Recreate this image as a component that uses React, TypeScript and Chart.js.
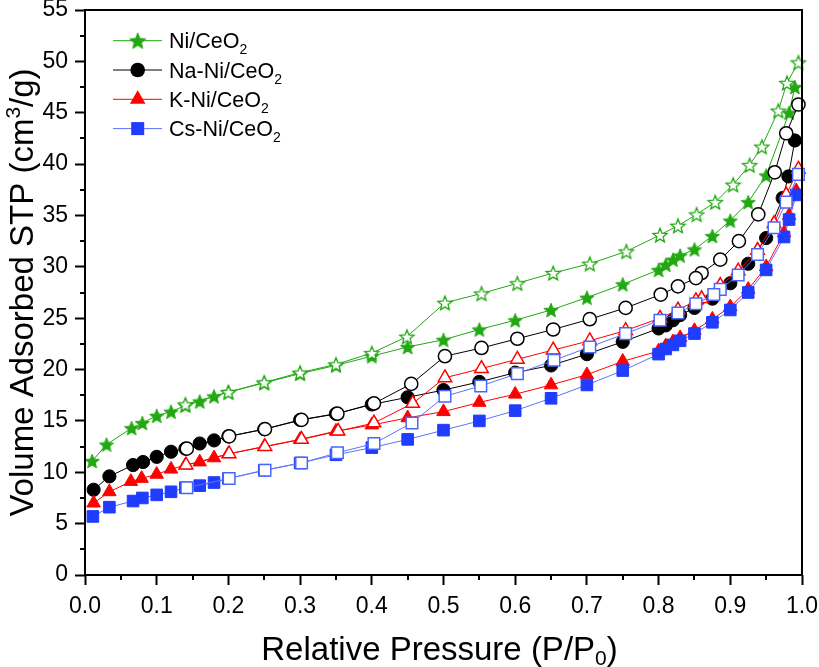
import React, { useEffect, useRef } from 'react';
import { Chart, registerables } from 'chart.js';

Chart.register(...registerables);

// ---------- data (relative pressure P/P0, volume cm3/g) ----------
const niAdsP = [0.01, 0.03, 0.065, 0.08, 0.1, 0.12, 0.14, 0.16, 0.18, 0.2, 0.25, 0.3, 0.35, 0.4, 0.45, 0.5, 0.55, 0.6, 0.65, 0.7, 0.75, 0.8, 0.81, 0.82, 0.83, 0.85, 0.875, 0.9, 0.925, 0.95, 0.982, 0.99];
const niAdsV = [11.1, 12.7, 14.3, 14.8, 15.5, 15.9, 16.5, 16.9, 17.4, 17.8, 18.7, 19.6, 20.4, 21.3, 22.2, 22.9, 23.9, 24.8, 25.8, 27.0, 28.3, 29.7, 30.2, 30.7, 31.1, 31.7, 33.0, 34.5, 36.3, 38.9, 45.0, 47.5];
const niDesP = [0.995, 0.979, 0.967, 0.944, 0.927, 0.904, 0.879, 0.853, 0.827, 0.802, 0.755, 0.704, 0.653, 0.603, 0.553, 0.502, 0.449, 0.4, 0.35, 0.3, 0.25, 0.2, 0.14];
const niDesV = [49.9, 47.9, 45.2, 41.7, 39.9, 38.0, 36.3, 35.1, 34.0, 33.1, 31.5, 30.3, 29.4, 28.4, 27.4, 26.5, 23.2, 21.6, 20.5, 19.7, 18.75, 17.8, 16.6];

const naAdsP = [0.012, 0.034, 0.067, 0.081, 0.1, 0.12, 0.14, 0.16, 0.18, 0.2, 0.25, 0.3, 0.35, 0.4, 0.45, 0.5, 0.55, 0.6, 0.65, 0.7, 0.75, 0.8, 0.81, 0.82, 0.83, 0.85, 0.875, 0.9, 0.925, 0.95, 0.973, 0.981, 0.99];
const naAdsV = [8.3, 9.6, 10.7, 11.0, 11.5, 12.0, 12.3, 12.8, 13.1, 13.5, 14.2, 15.1, 15.7, 16.6, 17.3, 18.0, 18.8, 19.7, 20.4, 21.5, 22.7, 24.0, 24.3, 24.8, 25.3, 26.0, 26.9, 28.4, 30.3, 32.8, 36.7, 38.8, 42.3];
const naDesP = [0.995, 0.978, 0.962, 0.939, 0.912, 0.886, 0.86, 0.852, 0.827, 0.803, 0.754, 0.704, 0.653, 0.603, 0.553, 0.502, 0.455, 0.403, 0.352, 0.302, 0.251, 0.201, 0.142];
const naDesV = [45.8, 43.0, 39.2, 35.1, 32.5, 30.7, 29.4, 28.9, 28.1, 27.3, 26.0, 24.9, 23.9, 23.0, 22.1, 21.3, 18.6, 16.7, 15.7, 15.1, 14.2, 13.5, 12.3];

const kAdsP = [0.012, 0.034, 0.064, 0.079, 0.1, 0.12, 0.14, 0.16, 0.18, 0.2, 0.25, 0.3, 0.35, 0.4, 0.45, 0.5, 0.55, 0.6, 0.65, 0.7, 0.75, 0.8, 0.81, 0.82, 0.83, 0.85, 0.875, 0.9, 0.925, 0.95, 0.975, 0.982, 0.992];
const kAdsV = [7.0, 8.1, 9.1, 9.4, 9.8, 10.3, 10.7, 11.0, 11.4, 11.8, 12.5, 13.2, 14.0, 14.6, 15.3, 15.9, 16.8, 17.6, 18.5, 19.5, 20.8, 21.8, 22.3, 22.7, 23.1, 23.8, 24.9, 26.1, 27.8, 30.0, 33.3, 35.0, 37.4];
const kDesP = [0.995, 0.978, 0.961, 0.938, 0.911, 0.886, 0.86, 0.852, 0.827, 0.802, 0.754, 0.704, 0.653, 0.603, 0.553, 0.502, 0.457, 0.403, 0.353, 0.302, 0.251, 0.201, 0.141];
const kDesV = [39.5, 37.0, 34.2, 31.6, 29.6, 28.2, 26.9, 26.7, 25.8, 25.0, 23.8, 22.8, 21.9, 21.0, 20.1, 19.2, 16.7, 14.8, 14.0, 13.2, 12.5, 11.8, 10.7];

const csAdsP = [0.011, 0.034, 0.067, 0.08, 0.1, 0.12, 0.14, 0.16, 0.18, 0.2, 0.25, 0.3, 0.35, 0.4, 0.45, 0.5, 0.55, 0.6, 0.65, 0.7, 0.75, 0.8, 0.81, 0.82, 0.83, 0.85, 0.875, 0.9, 0.925, 0.95, 0.975, 0.982, 0.992];
const csAdsV = [5.7, 6.6, 7.2, 7.5, 7.8, 8.1, 8.5, 8.7, 9.0, 9.4, 10.2, 10.9, 11.7, 12.4, 13.2, 14.1, 15.0, 16.0, 17.2, 18.5, 19.9, 21.5, 22.0, 22.4, 22.8, 23.5, 24.6, 25.8, 27.5, 29.7, 32.9, 34.6, 37.0];
const csDesP = [0.995, 0.978, 0.961, 0.938, 0.911, 0.886, 0.877, 0.852, 0.827, 0.802, 0.754, 0.704, 0.654, 0.603, 0.552, 0.502, 0.456, 0.403, 0.352, 0.302, 0.251, 0.201, 0.142];
const csDesV = [39.0, 36.3, 33.8, 31.2, 29.2, 27.8, 27.3, 26.4, 25.5, 24.8, 23.5, 22.2, 20.9, 19.6, 18.4, 17.4, 14.8, 12.8, 11.9, 10.9, 10.2, 9.4, 8.5];

const xTickLabels = ['0.0', '0.1', '0.2', '0.3', '0.4', '0.5', '0.6', '0.7', '0.8', '0.9', '1.0'];
const legendNames = ['Ni/CeO', 'Na-Ni/CeO', 'K-Ni/CeO', 'Cs-Ni/CeO'];

// ---------- styles ----------
const GREEN = '#22a812';
const BLACK = '#000000';
const RED = '#ff0000';
const BLUE = '#1f3cff';
const BLUE_LINE = '#5c72ff';
const BLUE_OPEN = '#4766ff';
const FONT = "'Liberation Sans', Arial, Helvetica, sans-serif";

const pts = (xs: number[], ys: number[]) => xs.map((x, i) => ({ x, y: ys[i] }));

function makeStar(fill: string, stroke: string, R: number, lw: number) {
  const size = 2 * Math.ceil(R + 2);
  const c = document.createElement('canvas');
  c.width = size;
  c.height = size;
  const g = c.getContext('2d')!;
  const cx = size / 2;
  const cy = size / 2 + 0.8;
  const r = R * 0.44;
  g.beginPath();
  for (let i = 0; i < 10; i++) {
    const a = -Math.PI / 2 + (i * Math.PI) / 5;
    const rr = i % 2 === 0 ? R : r;
    const px = cx + rr * Math.cos(a);
    const py = cy + rr * Math.sin(a);
    if (i === 0) g.moveTo(px, py);
    else g.lineTo(px, py);
  }
  g.closePath();
  g.fillStyle = fill;
  g.fill();
  g.lineWidth = lw;
  g.strokeStyle = stroke;
  g.lineJoin = 'miter';
  g.stroke();
  return c;
}

function drawSubText(ctx: CanvasRenderingContext2D, parts: { t: string; size: number; dy: number }[], x: number, y: number, align: 'left' | 'center') {
  let total = 0;
  const widths = parts.map((p) => {
    ctx.font = `${p.size}px ${FONT}`;
    const w = ctx.measureText(p.t).width;
    total += w;
    return w;
  });
  let cx = align === 'center' ? x - total / 2 : x;
  ctx.textAlign = 'left';
  ctx.textBaseline = 'alphabetic';
  parts.forEach((p, i) => {
    ctx.font = `${p.size}px ${FONT}`;
    ctx.fillText(p.t, cx, y + p.dy);
    cx += widths[i];
  });
}

export default function App() {
  const ref = useRef<HTMLCanvasElement | null>(null);

  useEffect(() => {
    if (!ref.current) return;
    const starFilled = makeStar(GREEN, GREEN, 7.5, 1);
    const starOpen = makeStar('#ffffff', GREEN, 7.5, 1.3);
    const starLegend = makeStar(GREEN, GREEN, 8.5, 1);

    const framePlugin = {
      id: 'frameAndTitles',
      afterDatasetsDraw(chart: any) {
        const { ctx, chartArea: a, scales } = chart;
        ctx.save();
        // minor ticks
        ctx.strokeStyle = '#000';
        ctx.lineWidth = 2;
        const xs = scales.x;
        const ys = scales.y;
        ctx.beginPath();
        for (let i = 0; i < 10; i++) {
          const v = 0.05 + i * 0.1;
          const px = Math.round(xs.getPixelForValue(v));
          ctx.moveTo(px, a.bottom);
          ctx.lineTo(px, a.bottom + 5);
        }
        for (let i = 0; i < 11; i++) {
          const v = 2.5 + i * 5;
          const py = Math.round(ys.getPixelForValue(v));
          ctx.moveTo(a.left, py);
          ctx.lineTo(a.left - 5, py);
        }
        ctx.stroke();
        // frame
        ctx.lineWidth = 2;
        ctx.strokeRect(a.left, a.top, a.right - a.left, a.bottom - a.top);

        // axis titles
        ctx.fillStyle = '#000';
        drawSubText(ctx, [
          { t: 'Relative Pressure (P/P', size: 33, dy: 0 },
          { t: '0', size: 21, dy: 5 },
          { t: ')', size: 33, dy: 0 },
        ], (a.left + a.right) / 2 - 4, 660, 'center');

        ctx.save();
        ctx.translate(33, (a.top + a.bottom) / 2);
        ctx.rotate(-Math.PI / 2);
        drawSubText(ctx, [
          { t: 'Volume Adsorbed STP (cm', size: 33, dy: 0 },
          { t: '3', size: 21, dy: -13 },
          { t: '/g)', size: 33, dy: 0 },
        ], 0, 0, 'center');
        ctx.restore();

        // legend
        const colors = [GREEN, BLACK, RED, BLUE];
        const lineColors = [GREEN, BLACK, RED, BLUE_LINE];
        for (let i = 0; i < 4; i++) {
          const y = 40.7 + i * 29.3;
          ctx.strokeStyle = lineColors[i];
          ctx.lineWidth = 1;
          ctx.beginPath();
          ctx.moveTo(113, y);
          ctx.lineTo(162, y);
          ctx.stroke();
          const mx = 137.7;
          ctx.fillStyle = colors[i];
          if (i === 0) {
            ctx.drawImage(starLegend, mx - starLegend.width / 2, y - starLegend.height / 2);
          } else if (i === 1) {
            ctx.beginPath();
            ctx.arc(mx, y, 7.3, 0, Math.PI * 2);
            ctx.fill();
          } else if (i === 2) {
            const r = 9;
            ctx.beginPath();
            ctx.moveTo(mx, y - r);
            ctx.lineTo(mx + r * 0.866, y + r * 0.5);
            ctx.lineTo(mx - r * 0.866, y + r * 0.5);
            ctx.closePath();
            ctx.fill();
          } else {
            ctx.fillRect(mx - 6.5, y - 6.5, 13, 13);
          }
          ctx.fillStyle = '#000';
          drawSubText(ctx, [
            { t: legendNames[i], size: 21.5, dy: 0 },
            { t: '2', size: 14, dy: 6 },
          ], 169, y + 7.5, 'left');
        }
        ctx.restore();
      },
    };

    const common = { borderWidth: 1, tension: 0, fill: false, clip: false as any, showLine: true };

    const chart = new Chart(ref.current, {
      type: 'line',
      data: {
        datasets: [
          { ...common, label: 'Ni ads', data: pts(niAdsP, niAdsV), borderColor: GREEN, pointStyle: starFilled as any, pointRadius: 8, order: 8 },
          { ...common, label: 'Ni des', data: pts(niDesP, niDesV), borderColor: GREEN, pointStyle: starOpen as any, pointRadius: 8, order: 7 },
          { ...common, label: 'Na ads', data: pts(naAdsP, naAdsV), borderColor: BLACK, backgroundColor: BLACK, pointStyle: 'circle', pointRadius: 6.6, pointBorderWidth: 1, pointBorderColor: BLACK, pointBackgroundColor: BLACK, order: 6 },
          { ...common, label: 'Na des', data: pts(naDesP, naDesV), borderColor: BLACK, pointStyle: 'circle', pointRadius: 6.6, pointBorderWidth: 1.5, pointBorderColor: BLACK, pointBackgroundColor: '#ffffff', order: 5 },
          { ...common, label: 'K ads', data: pts(kAdsP, kAdsV), borderColor: RED, pointStyle: 'triangle', pointRadius: 7.8, pointBorderWidth: 1, pointBorderColor: RED, pointBackgroundColor: RED, order: 4 },
          { ...common, label: 'K des', data: pts(kDesP, kDesV), borderColor: RED, pointStyle: 'triangle', pointRadius: 7.8, pointBorderWidth: 1.5, pointBorderColor: RED, pointBackgroundColor: '#ffffff', order: 3 },
          { ...common, label: 'Cs ads', data: pts(csAdsP, csAdsV), borderColor: BLUE_LINE, pointStyle: 'rect', pointRadius: 8.2, pointBorderWidth: 1, pointBorderColor: BLUE, pointBackgroundColor: BLUE, order: 2 },
          { ...common, label: 'Cs des', data: pts(csDesP, csDesV), borderColor: BLUE_LINE, pointStyle: 'rect', pointRadius: 8.2, pointBorderWidth: 1.5, pointBorderColor: BLUE_OPEN, pointBackgroundColor: '#ffffff', order: 1 },
        ],
      },
      options: {
        animation: false,
        responsive: false,
        maintainAspectRatio: false,
        devicePixelRatio: 1,
        layout: { padding: { left: 0, right: 17, top: 10, bottom: 0 } },
        plugins: { legend: { display: false }, tooltip: { enabled: false }, title: { display: false } },
        scales: {
          x: {
            type: 'linear',
            min: 0,
            max: 1,
            afterFit: (s: any) => {
              s.height = 92;
              s.paddingLeft = 0;
              s.paddingRight = 0;
            },
            ticks: {
              stepSize: 0.1,
              autoSkip: false,
              maxRotation: 0,
              padding: 8,
              color: '#000',
              font: { family: FONT, size: 23 },
              callback: (v: any) => {
                const idx = Math.round(Number(v) * 10);
                return xTickLabels[idx] ?? '';
              },
            },
            grid: { drawOnChartArea: false, drawTicks: true, tickLength: 10, tickWidth: 2, tickColor: '#000' },
            border: { display: false },
          },
          y: {
            type: 'linear',
            min: 0,
            max: 55,
            afterFit: (s: any) => {
              s.width = 85;
              s.paddingTop = 0;
              s.paddingBottom = 0;
            },
            ticks: {
              stepSize: 5,
              autoSkip: false,
              padding: 7,
              color: '#000',
              font: { family: FONT, size: 23 },
            },
            grid: { drawOnChartArea: false, drawTicks: true, tickLength: 10, tickWidth: 2, tickColor: '#000' },
            border: { display: false },
          },
        },
      },
      plugins: [framePlugin],
    } as any);

    return () => chart.destroy();
  }, []);

  return (
    <div style={{ position: 'absolute', left: 0, top: 0, width: 819, height: 667, background: '#fff' }}>
      <canvas ref={ref} width={819} height={667} style={{ display: 'block', width: 819, height: 667 }} />
    </div>
  );
}
